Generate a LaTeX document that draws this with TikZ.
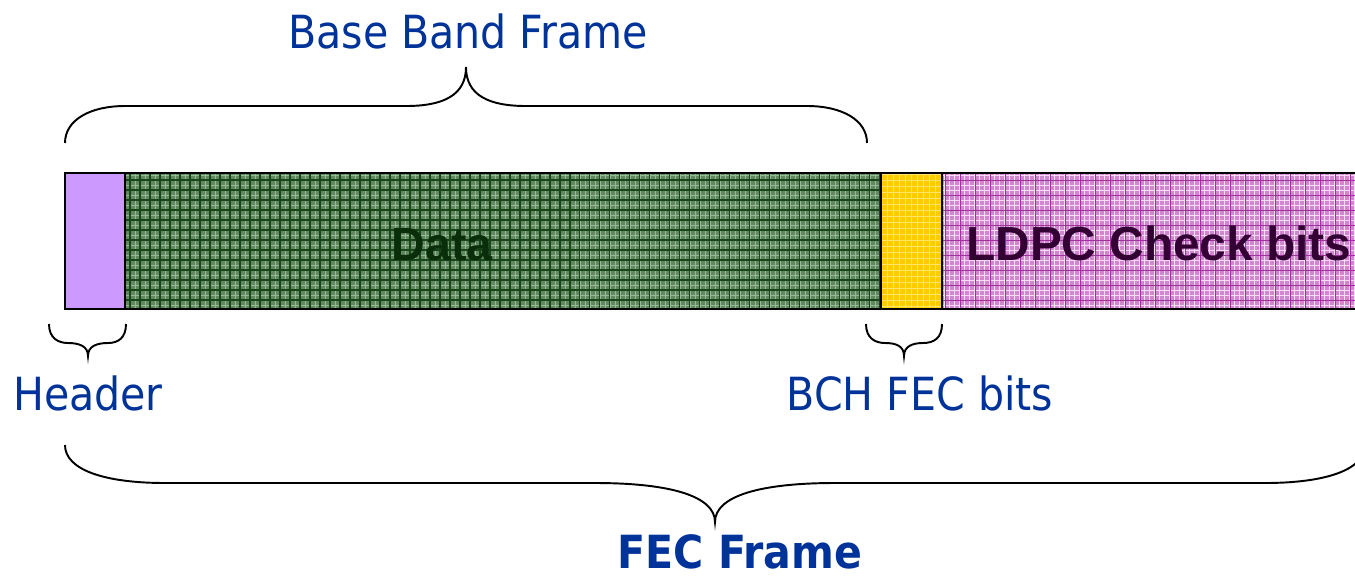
\documentclass[tikz,border=0pt]{standalone}
\usepackage{fontspec}
\IfFontExistsTF{DejaVu Sans Condensed}{\newfontfamily\labfont{DejaVu Sans Condensed}}{\newfontfamily\labfont{Liberation Sans}}
\newfontfamily\arialfont{Liberation Sans}
\definecolor{labblue}{RGB}{0,51,153}
\definecolor{hdrfill}{RGB}{204,153,255}
\definecolor{datafill}{RGB}{98,136,98}
\definecolor{datagrid}{RGB}{25,70,25}
\definecolor{datalight}{RGB}{150,185,150}
\definecolor{bchfill}{RGB}{255,204,0}
\definecolor{bchgrid}{RGB}{255,228,110}
\definecolor{ldpcfill}{RGB}{208,135,208}
\definecolor{ldpclight}{RGB}{248,220,248}
\definecolor{ldpcdark}{RGB}{160,50,160}
\definecolor{datatext}{RGB}{10,45,10}
\definecolor{ldpctext}{RGB}{50,0,50}
\tikzset{
  seg/.style={draw=black, line width=1.5pt},
  brace/.style={draw=black, line width=1.1pt},
  lab/.style={text=labblue, font=\labfont\fontsize{26}{30}\selectfont, anchor=base, inner sep=0pt},
  labbold/.style={text=labblue, font=\labfont\bfseries\fontsize{26}{30}\selectfont, anchor=base, inner sep=0pt},
  intext/.style={font=\arialfont\bfseries\fontsize{26.5}{30}\selectfont, anchor=base, inner sep=0pt}
}
\begin{document}
\begin{tikzpicture}[x=0.02cm,y=-0.02cm]
\clip (0,0) rectangle (1355,579);
\fill[white] (0,0) rectangle (1355,579);
% header
\fill[hdrfill] (65,173) rectangle (125,309);
% data
\begin{scope}
\clip (125,173) rectangle (881,309);
\fill[datafill] (125,173) rectangle (881,309);
\draw[datalight, line width=0.4pt, step=0.1cm] (120,170) grid (885,312);
\draw[datagrid, line width=0.7pt, step=0.2cm] (120,170) grid (885,312);
\end{scope}
% bch
\begin{scope}
\clip (881,173) rectangle (942,309);
\fill[bchfill] (881,173) rectangle (942,309);
\draw[bchgrid, line width=0.4pt, step=0.12cm] (878,170) grid (945,312);
\end{scope}
% ldpc
\begin{scope}
\clip (942,173) rectangle (1365,309);
\fill[ldpcfill] (942,173) rectangle (1365,309);
\draw[ldpclight, line width=0.5pt, step=0.1cm] (940,170) grid (1370,312);
\draw[ldpcdark, line width=0.3pt, step=0.3cm] (940,170) grid (1370,312);
\end{scope}
% outlines
\node[seg, minimum width=1.2cm, minimum height=2.72cm, inner sep=0pt] (hdr) at (95,241) {};
\node[seg, minimum width=15.12cm, minimum height=2.72cm, inner sep=0pt] (data) at (503,241) {};
\node[seg, minimum width=1.22cm, minimum height=2.72cm, inner sep=0pt] (bch) at (911.5,241) {};
\node[seg, minimum width=8.46cm, minimum height=2.72cm, inner sep=0pt] (ldpc) at (1153.5,241) {};
% texts in bar
\node[intext, text=datatext] (datalbl) at (442,260) {Data};
\node[intext, text=ldpctext, anchor=base west, font=\arialfont\bfseries\fontsize{27.2}{30}\selectfont] (ldpclbl) at (966,260) {LDPC Check bits};
% base band brace
\draw[brace] (65,143) .. controls (65,120) and (90,106) .. (125,106) -- (406,106)
  .. controls (442,106) and (466,96) .. (466,67)
  .. controls (466,96) and (490,106) .. (526,106) -- (807,106)
  .. controls (842,106) and (867,120) .. (867,143);
\node[lab] (bbf) at (468,48) {Base Band Frame};
% header brace
\draw[brace] (49,324) .. controls (49,338) and (58,343) .. (68,343)
  .. controls (79,343) and (88,346) .. (88,356)
  .. controls (88,346) and (97,343) .. (108,343)
  .. controls (118,343) and (126,338) .. (126,324);
\node[lab] (hdrlbl) at (88,410) {Header};
% bch brace
\draw[brace] (866,324) .. controls (866,338) and (875,343) .. (885,343)
  .. controls (896,343) and (904,346) .. (904,356)
  .. controls (904,346) and (913,343) .. (923,343)
  .. controls (934,343) and (942,338) .. (942,324);
\node[lab] (bchlbl) at (920,410) {BCH FEC bits};
% fec brace
\draw[brace] (65,445) .. controls (65,470) and (105,483) .. (165,483) -- (595,483)
  .. controls (670,483) and (715,496) .. (715,522)
  .. controls (715,496) and (760,483) .. (835,483) -- (1265,483)
  .. controls (1325,483) and (1365,470) .. (1365,445);
\node[labbold] (feclbl) at (740,568) {FEC Frame};
\end{tikzpicture}
\end{document}
